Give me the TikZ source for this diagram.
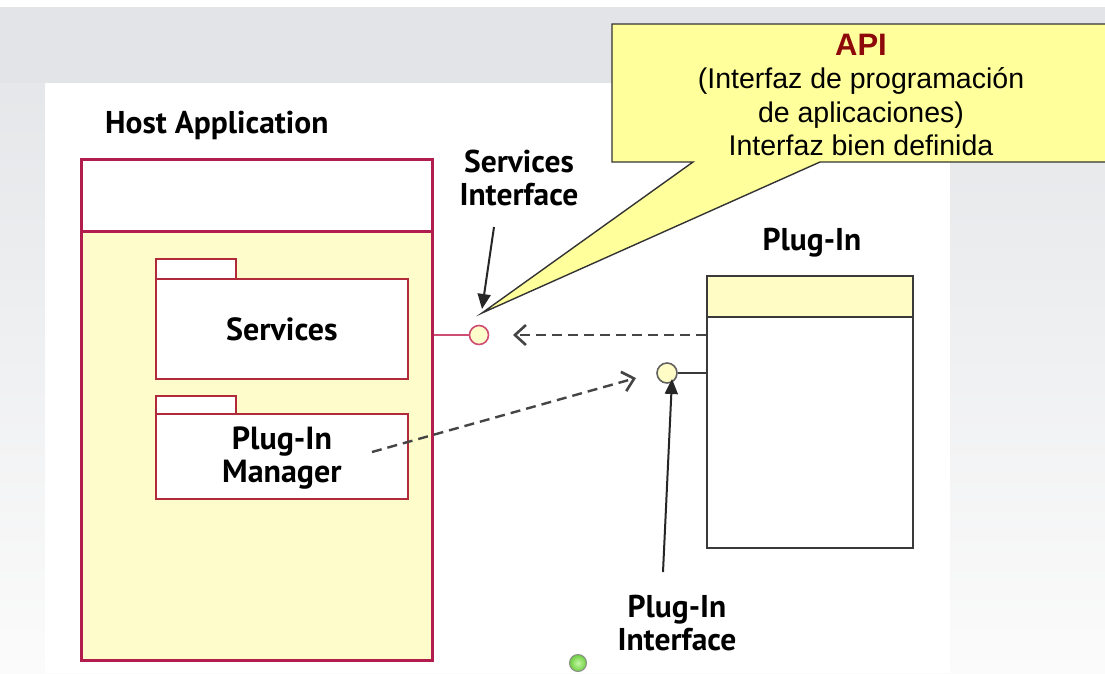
\documentclass[tikz,border=0pt]{standalone}
\usepackage{fontspec}
\setmainfont{Liberation Sans}
\newfontfamily\lblfont{PT Sans}
\usetikzlibrary{arrows.meta}

\definecolor{hostred}{HTML}{B11D4C}
\definecolor{hostfill}{HTML}{FFFCCB}
\definecolor{pkgred}{HTML}{B02A3A}
\definecolor{lollired}{HTML}{CF4C72}
\definecolor{calloutfill}{HTML}{FFFF9C}
\definecolor{apired}{HTML}{8E0A0A}
\definecolor{dashgray}{HTML}{454545}
\definecolor{plugline}{HTML}{3A3A3A}
\definecolor{plughead}{HTML}{FFFCC6}
\definecolor{bggray}{HTML}{E2E4E7}
\definecolor{bglight}{HTML}{FBFBFB}
\definecolor{dotlight}{HTML}{C4F7A6}
\definecolor{dotdark}{HTML}{6CCF3E}

\begin{document}
\begin{tikzpicture}[x=1pt, y=-1pt,
  lbl/.style={font=\lblfont\bfseries\fontsize{31.5}{33}\selectfont, align=center, inner sep=0pt},
  hostpart/.style={draw=hostred, line width=2.6pt, minimum width=351pt, inner sep=0pt, anchor=north west},
  pkgbody/.style={draw=pkgred, line width=1.8pt, fill=white, minimum width=252pt, inner sep=0pt,
    anchor=north west, font=\lblfont\bfseries\fontsize{32}{33}\selectfont, align=center},
  pkgtab/.style={draw=pkgred, line width=1.8pt, fill=white, minimum width=80pt, inner sep=0pt, anchor=north west},
  plugpart/.style={draw=plugline, line width=2pt, minimum width=206pt, inner sep=0pt, anchor=north west},
  lolli/.style={circle, minimum size=19pt, inner sep=0pt, line width=1.6pt},
  depends/.style={draw=dashgray, line width=2.4pt, dash pattern=on 10pt off 6pt,
    -{Straight Barb[length=11pt,width=20pt,line width=2.6pt]}},
  pointer/.style={draw=black!85, line width=2pt, -{Triangle[length=15pt,width=13pt]}}
]
\useasboundingbox (0,0) rectangle (1105,673);

% slide background: grey frame around a white drawing area
\shade[top color=bggray, bottom color=bglight] (0,0) rectangle (1105,673);
\fill[white] (0,0) rectangle (1105,7);
\fill[bggray] (0,7) rectangle (1105,83);
\fill[white] (45,83) rectangle (950,673);

% callout with the API note
\draw[fill=calloutfill, draw=black!80, line width=1.4pt]
  (612,24) -- (1110,24) -- (1110,162) -- (820,162) -- (482,313) -- (693,162) -- (612,162) -- cycle;
\node[align=center, font=\fontsize{28.5}{33.5}\selectfont, inner sep=0pt] (api) at (861,95)
  {{\fontsize{31}{33.5}\selectfont\bfseries\color{apired}API}\\(Interfaz de programación\\de aplicaciones)\\Interfaz bien definida};

% host application component
\node[lbl, anchor=base west] (hostlabel) at (105,133) {Host Application};
\node[hostpart, fill=white, minimum height=72pt] (hosthead) at (80,158) {};
\node[hostpart, fill=hostfill, minimum height=429pt] (hostbody) at (80,230) {};

% packages inside the host
\node[pkgbody, minimum height=100pt] (svc) at (155,278) {Services};
\node[pkgtab, minimum height=20pt] (svctab) at (155,258) {};
\node[pkgbody, minimum height=85pt, text depth=4pt] (mgr) at (155,413) {Plug-In\\Manager};
\node[pkgtab, minimum height=18pt] (mgrtab) at (155,395) {};

% provided services interface
\node[lolli, draw=lollired, fill=hostfill] (si) at (479,335) {};
\draw[lollired, line width=1.8pt] (hostbody.east |- si) -- (si.west);
\node[lbl] (silabel) at (519,178) {Services\\Interface};
\coordinate (siFrom) at (494,227);
\coordinate (siTo) at (482,309);
\draw[pointer] (siFrom) -- (siTo);

% plug-in component
\node[lbl, anchor=base] (pluglabel) at (812,250) {Plug-In};
\node[plugpart, fill=plughead, minimum height=41pt] (phead) at (706,275) {};
\node[plugpart, fill=white, minimum height=231pt] (pbody) at (706,316) {};

% plug-in interface
\node[lolli, draw=plugline!80, fill=plughead, minimum size=20pt] (pi) at (667,373) {};
\draw[plugline, line width=2pt] (pi.east) -- (pbody.west |- pi);
\node[lbl] (pilabel) at (677,623) {Plug-In\\Interface};
\coordinate (piFrom) at (663,572);
\coordinate (piTo) at (672,379);
\draw[pointer] (piFrom) -- (piTo);

% dependencies
\coordinate (svcTip) at (513,335);
\draw[depends] (pbody.west |- svcTip) -- (svcTip);
\coordinate (mgrStart) at (372,452);
\coordinate (piTip) at (636,378);
\draw[depends] (mgrStart) -- (piTip);

% small status dot
\node[circle, minimum size=17pt, inner sep=0pt, draw=black!45, line width=1pt,
  inner color=dotlight, outer color=dotdark] (dot) at (578,663) {};
\end{tikzpicture}
\end{document}
